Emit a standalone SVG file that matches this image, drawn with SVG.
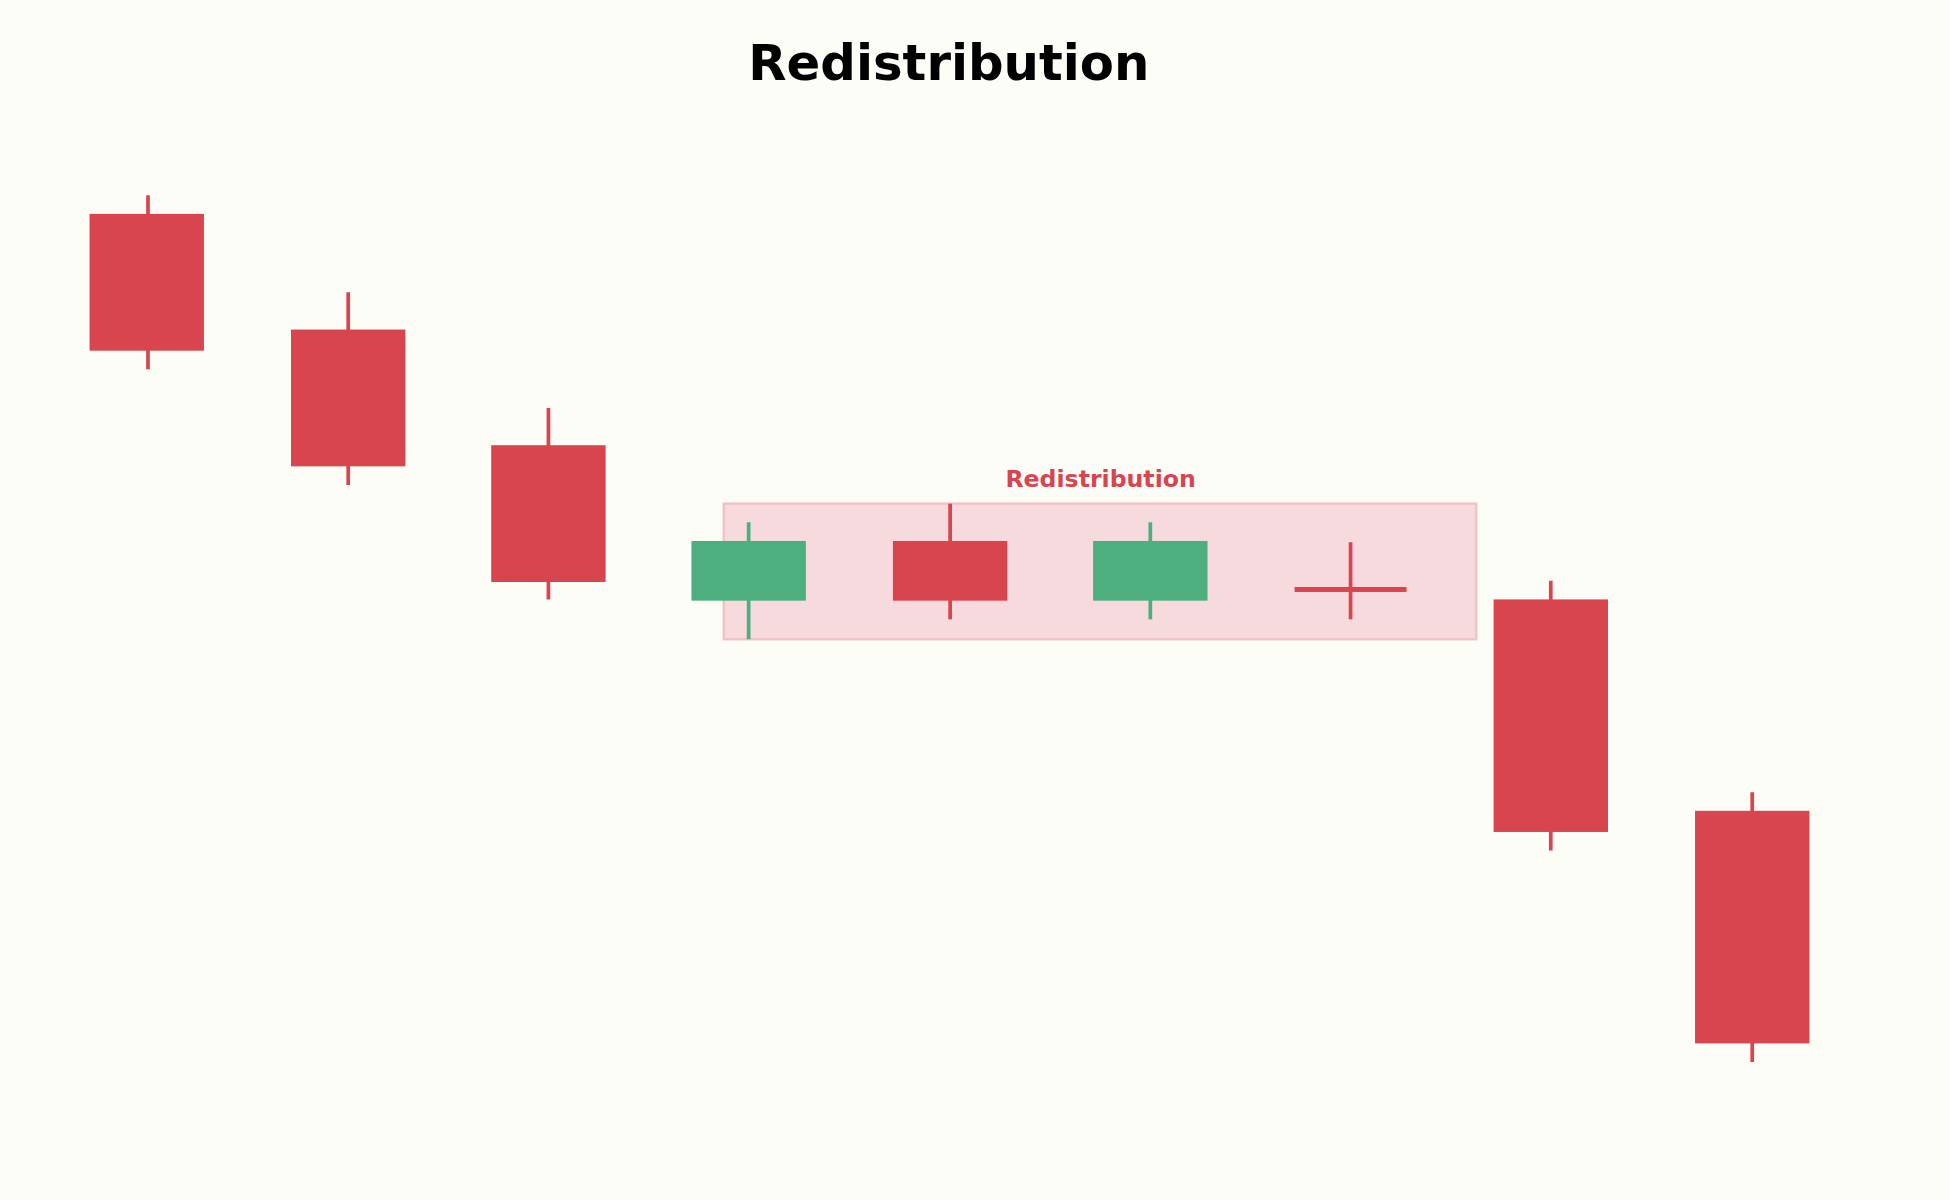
<svg xmlns="http://www.w3.org/2000/svg" width="1950" height="1200" viewBox="0 0 1950 1200">
<style>
.r{fill:#d9454f}.g{fill:#4caf7d}
.wr{stroke:#d9454f;stroke-width:3}.wg{stroke:#4caf7d;stroke-width:3}
text{font-family:"DejaVu Sans","Liberation Sans",sans-serif;font-weight:bold;text-anchor:middle}
</style>
<rect width="1950" height="1200" fill="#fdfdf8"/>
<g transform="scale(1.2436)">
<text x="763" y="64" font-size="40" fill="#000">Redistribution</text>
<g id="zone"><rect x="582" y="405" width="605" height="109" fill="#f7dadd" stroke="#f0c3c8" stroke-width="2"/>
<text x="885" y="392" font-size="19" fill="#d9454f">Redistribution</text></g>
<g id="c1"><line class="wr" x1="119" y1="157" x2="119" y2="297"/><rect class="r" x="72" y="172" width="92" height="110"/></g>
<g id="c2"><line class="wr" x1="280" y1="235" x2="280" y2="390"/><rect class="r" x="234" y="265" width="92" height="110"/></g>
<g id="c3"><line class="wr" x1="441" y1="328" x2="441" y2="482"/><rect class="r" x="395" y="358" width="92" height="110"/></g>
<g id="c4"><line class="wg" x1="602" y1="420" x2="602" y2="514"/><rect class="g" x="556" y="435" width="92" height="48"/></g>
<g id="c5"><line class="wr" x1="764" y1="405" x2="764" y2="498"/><rect class="r" x="718" y="435" width="92" height="48"/></g>
<g id="c6"><line class="wg" x1="925" y1="420" x2="925" y2="498"/><rect class="g" x="879" y="435" width="92" height="48"/></g>
<g id="c7"><line class="wr" x1="1086" y1="436" x2="1086" y2="498"/><rect class="r" x="1041" y="472" width="90" height="4"/></g>
<g id="c8"><line class="wr" x1="1247" y1="467" x2="1247" y2="684"/><rect class="r" x="1201" y="482" width="92" height="187"/></g>
<g id="c9"><line class="wr" x1="1409" y1="637" x2="1409" y2="854"/><rect class="r" x="1363" y="652" width="92" height="187"/></g>
</g>
</svg>
